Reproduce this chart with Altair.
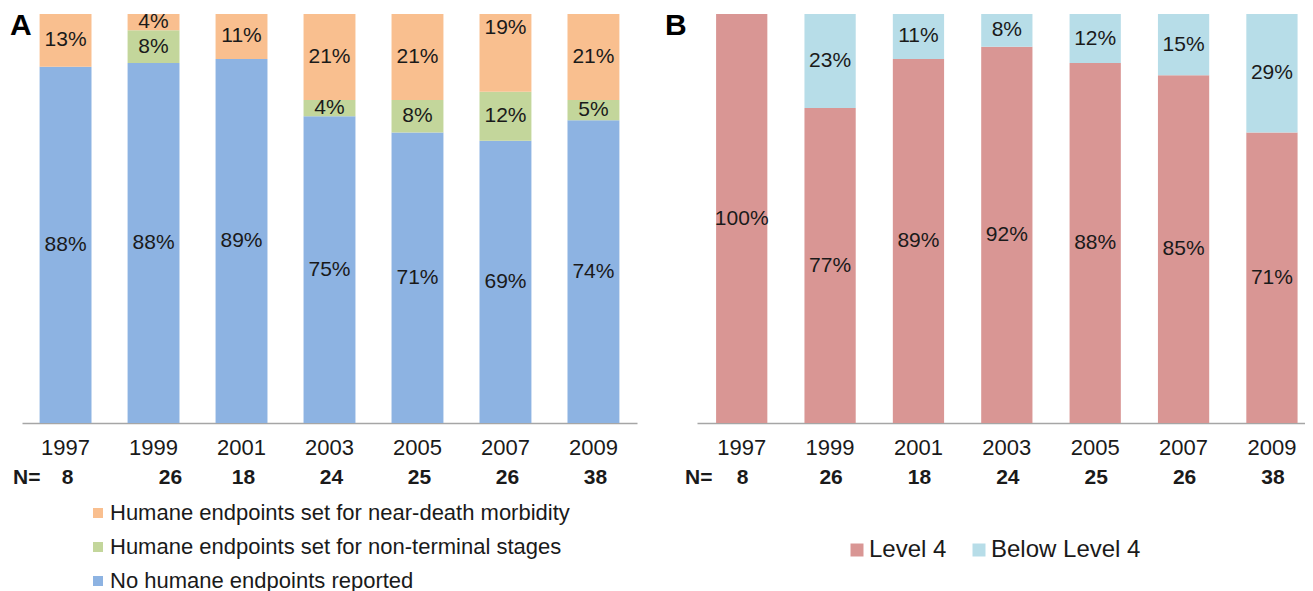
import altair as alt
import pandas as pd

years = ['1997', '1999', '2001', '2003', '2005', '2007', '2009']
n_values = [8, 26, 18, 24, 25, 26, 38]

# Panel A
near_death = [13, 4, 11, 21, 21, 19, 21]
non_terminal = [0, 8, 0, 4, 8, 12, 5]
no_endpoints = [88, 88, 89, 75, 71, 69, 74]
cats_a = ['Humane endpoints set for near-death morbidity',
          'Humane endpoints set for non-terminal stages',
          'No humane endpoints reported']
colors_a = ['#F9BF8F', '#C3D69B', '#8DB3E2']

# Panel B
level4 = [100, 77, 89, 92, 88, 85, 71]
below_level4 = [0, 23, 11, 8, 12, 15, 29]
cats_b = ['Level 4', 'Below Level 4']
colors_b = ['#D99694', '#B7DDE8']

FONT = 'Liberation Sans'
FS_PCT = 21
FS_AX = 22
FS_N = 21
TXT = '#1a1a1a'

rows_a = []
for i, y in enumerate(years):
    for order, (cat, vals) in enumerate([(cats_a[2], no_endpoints), (cats_a[1], non_terminal), (cats_a[0], near_death)]):
        rows_a.append({'year': y, 'cat': cat, 'value': vals[i], 'order': order, 'label': f'{vals[i]}%'})
df_a = pd.DataFrame(rows_a)

rows_b = []
for i, y in enumerate(years):
    for order, (cat, vals) in enumerate([(cats_b[0], level4), (cats_b[1], below_level4)]):
        rows_b.append({'year': y, 'cat': cat, 'value': vals[i], 'order': order, 'label': f'{vals[i]}%'})
df_b = pd.DataFrame(rows_b)

df_n = pd.DataFrame({'year': years, 'n': [str(v) for v in n_values]})

N_Y = 464


def panel(df, cats, colors, width, pad_inner, pad_outer, align, letter, letter_x, neq_x,
          legend, label_shift=None, n_shift=None):
    xscale = alt.Scale(domain=years, paddingInner=pad_inner, paddingOuter=pad_outer, align=align)
    xaxis = alt.Axis(labelFontSize=FS_AX, labelFont=FONT, labelColor=TXT, labelPadding=14,
                     ticks=False, domainColor='#a6a6a6', domainWidth=1.5, labelAngle=0, title=None,
                     grid=False)
    X = alt.X('year:N', scale=xscale, axis=xaxis)
    yscale = alt.Scale(domain=[0, 1], nice=False, zero=True)

    base = alt.Chart(df).transform_stack(
        stack='value', groupby=['year'], as_=['v0', 'v1'], offset='normalize',
        sort=[alt.SortField('order', order='ascending')]
    ).transform_calculate(mid='(datum.v0 + datum.v1) / 2')

    bars = base.mark_bar().encode(
        x=X,
        y=alt.Y('v0:Q', scale=yscale, axis=None),
        y2='v1:Q',
        color=alt.Color('cat:N', scale=alt.Scale(domain=cats, range=colors), legend=legend),
    )

    txt_kw = dict(font=FONT, fontSize=FS_PCT, color=TXT, baseline='middle', align='center')
    labels_all = base.transform_filter('datum.value > 0')
    Ymid = alt.Y('mid:Q', scale=yscale, axis=None)
    if label_shift is not None:
        yr, cat, dy = label_shift
        cond = f"datum.year == '{yr}' && datum.cat == '{cat}'"
        labels = labels_all.transform_filter(f'!({cond})').mark_text(**txt_kw).encode(
            x=X, y=Ymid, text='label:N')
        labels2 = labels_all.transform_filter(cond).mark_text(dy=dy, **txt_kw).encode(
            x=X, y=Ymid, text='label:N')
        label_layers = [labels, labels2]
    else:
        labels = labels_all.mark_text(**txt_kw).encode(x=X, y=Ymid, text='label:N')
        label_layers = [labels]

    nkw = dict(font=FONT, fontSize=FS_N, color=TXT, fontWeight='bold', baseline='middle', align='center')
    nbase = alt.Chart(df_n)
    if n_shift is not None:
        yr, dx = n_shift
        n1 = nbase.transform_filter(f"datum.year != '{yr}'").mark_text(dx=2, **nkw).encode(
            x=X, y=alt.value(N_Y), text='n:N')
        n2 = nbase.transform_filter(f"datum.year == '{yr}'").mark_text(dx=dx, **nkw).encode(
            x=X, y=alt.value(N_Y), text='n:N')
        n_layers = [n1, n2]
    else:
        n_layers = [nbase.mark_text(dx=1, **nkw).encode(x=X, y=alt.value(N_Y), text='n:N')]

    neq = alt.Chart(pd.DataFrame({'t': ['N=']})).mark_text(
        font=FONT, fontSize=FS_N, color=TXT, fontWeight='bold', baseline='middle', align='left'
    ).encode(text='t:N', x=alt.value(neq_x), y=alt.value(N_Y))

    let = alt.Chart(pd.DataFrame({'t': [letter]})).mark_text(
        font=FONT, fontSize=30, color='#000000', fontWeight='bold', baseline='middle', align='left'
    ).encode(text='t:N', x=alt.value(letter_x), y=alt.value(12))

    return alt.layer(bars, *label_layers, *n_layers, neq, let).properties(width=width, height=409)


legend_a = alt.Legend(orient='none', legendX=65, legendY=488, direction='vertical', title=None,
                      symbolType='square', symbolSize=100, symbolStrokeWidth=0,
                      labelFont=FONT, labelFontSize=22, labelColor=TXT, rowPadding=12,
                      labelOffset=1, padding=0, labelLimit=800)
legend_b = alt.Legend(orient='none', legendX=148, legendY=524, direction='horizontal', title=None,
                      symbolType='square', symbolSize=169, symbolStrokeWidth=0,
                      labelFont=FONT, labelFontSize=24, labelColor=TXT, columnPadding=20,
                      labelOffset=0, padding=0, labelLimit=800)

chart_a = panel(df_a, cats_a, colors_a, 615, 0.41, 0.2, 0.5, 'A', -12, -9, legend_a,
                label_shift=('2007', cats_a[0], -25), n_shift=('1999', 17))
chart_b = panel(df_b, cats_b, colors_b, 608, 0.42, 0.15, 0.72, 'B', -32, -12, legend_b)

chart = alt.hconcat(chart_a, chart_b, spacing=60, bounds='flush').resolve_scale(
    color='independent', x='independent', y='independent'
).properties(
    padding={'left': 2, 'top': 3, 'right': 0, 'bottom': 0}
).configure_view(strokeWidth=0)

chart.save('out.html', embed_options={'renderer': 'svg', 'actions': False})
